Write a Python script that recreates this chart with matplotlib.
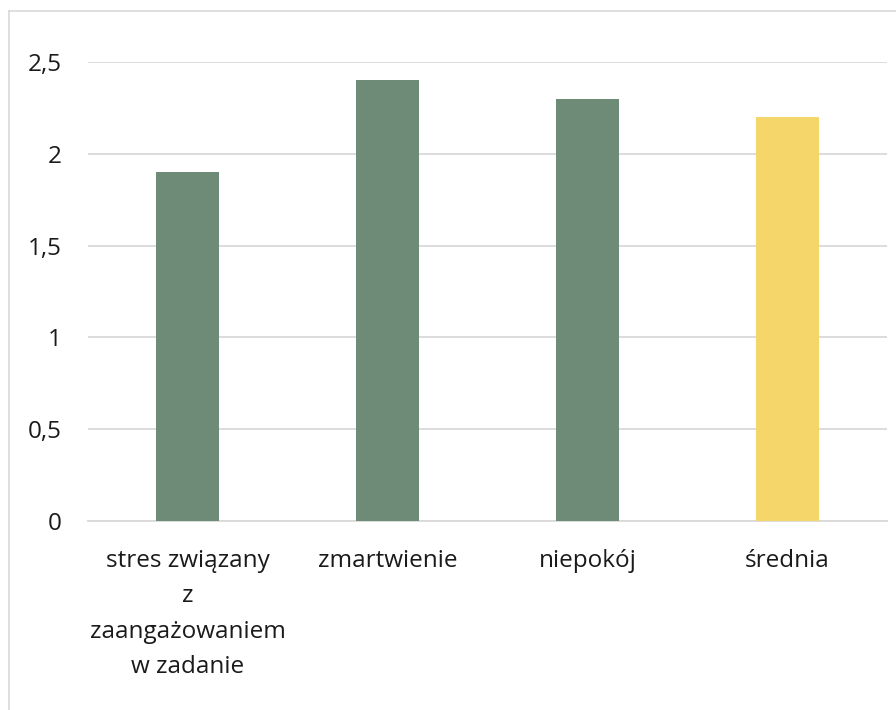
import matplotlib.pyplot as plt
from matplotlib.lines import Line2D
from matplotlib.ticker import FuncFormatter

plt.rcParams['font.family'] = ['Open Sans', 'DejaVu Sans']

categories = ["stres związany\nz\nzaangażowaniem\nw zadanie", "zmartwienie", "niepokój", "średnia"]
values = [1.9, 2.4, 2.3, 2.2]
bar_colors = ["#6E8B78", "#6E8B78", "#6E8B78", "#F4D66B"]
yticks = [0, 0.5, 1, 1.5, 2, 2.5]

fig = plt.figure(figsize=(8.96, 7.1), dpi=100)
ax = fig.add_axes([88/896, 189/710, 799/896, 459/710])

ax.bar(range(len(categories)), values, width=0.315, color=bar_colors, zorder=3)
ax.set_xlim(-0.5, len(categories) - 0.5)
ax.set_ylim(0, 2.5)
ax.set_yticks(yticks)
ax.yaxis.set_major_formatter(FuncFormatter(lambda v, p: ('%g' % v).replace('.', ',')))
ax.set_xticks(range(len(categories)))
ax.set_xticklabels(categories, linespacing=1.64)

ax.grid(axis='y', color='#D9D9D9', linewidth=1.3, zorder=0)
for s in ['top', 'right', 'left']:
    ax.spines[s].set_visible(False)
ax.spines['bottom'].set_color('#D9D9D9')
ax.spines['bottom'].set_linewidth(1.3)
ax.tick_params(axis='both', length=0, labelsize=17.5, colors='#1a1a1a')
ax.tick_params(axis='y', pad=19)
ax.tick_params(axis='x', pad=20)

# chart border (Excel-style frame)
fig.add_artist(Line2D([9/896, 9/896], [0, 1 - 11/710], color='#D9D9D9', linewidth=1.2))
fig.add_artist(Line2D([9/896, 1], [1 - 11/710, 1 - 11/710], color='#D9D9D9', linewidth=1.2))

fig.savefig('out.png', dpi=100)
